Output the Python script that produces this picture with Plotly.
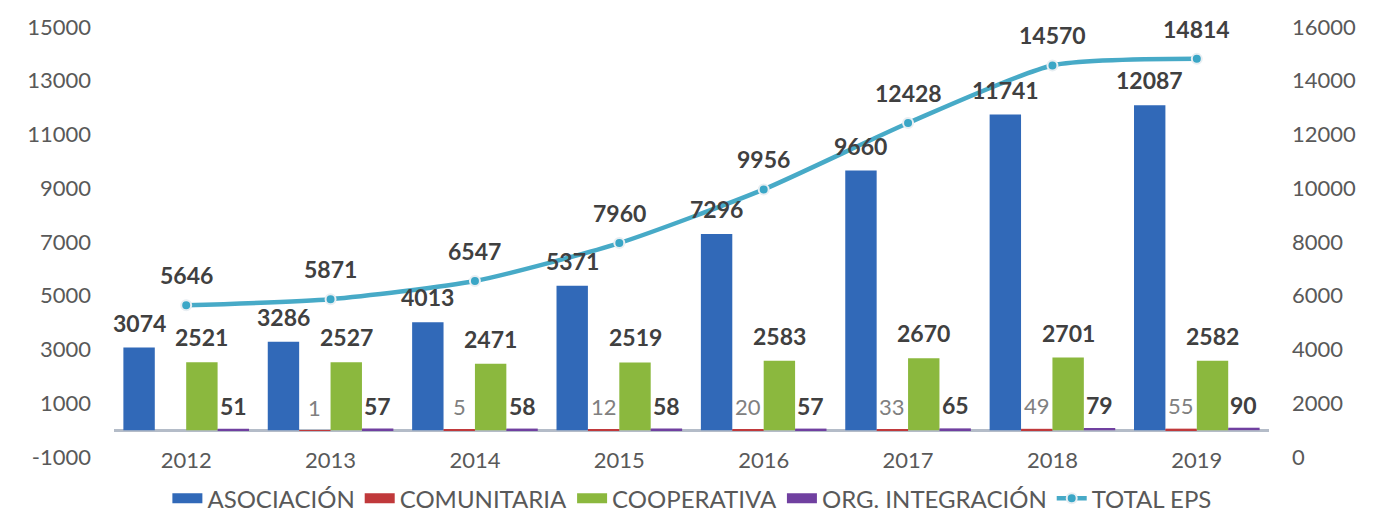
import plotly.graph_objects as go

years = ["2012", "2013", "2014", "2015", "2016", "2017", "2018", "2019"]
asociacion = [3074, 3286, 4013, 5371, 7296, 9660, 11741, 12087]
comunitaria = [0, 1, 5, 12, 20, 33, 49, 55]
cooperativa = [2521, 2527, 2471, 2519, 2583, 2670, 2701, 2582]
org_integracion = [51, 57, 58, 58, 57, 65, 79, 90]
total_eps = [5646, 5871, 6547, 7960, 9956, 12428, 14570, 14814]

left_ticks = list(range(-1000, 15001, 2000))
right_ticks = list(range(0, 16001, 2000))

FONT = "Lato"
BOLD = dict(family=FONT, size=23, color="#404040", weight="bold")
LIGHT = dict(family=FONT, size=22, color="#808080")

# page has an 8px body margin, so the figure is 8px smaller than the window
W, H = 1390, 509
ML, MR, MT, MB = 106, 129, 19, 60
BARGAP = 0.13
n_cat = len(years)
cat_px = (W - ML - MR) / n_cat
slot = cat_px * (1 - BARGAP) / 4
offs = [(-1.5 + i) * slot for i in range(4)]

series = [
    ("ASOCIACIÓN", asociacion, "#3169B8"),
    ("COMUNITARIA", comunitaria, "#C0393B"),
    ("COOPERATIVA", cooperativa, "#8BB83E"),
    ("ORG. INTEGRACIÓN", org_integracion, "#7040A0"),
]

fig = go.Figure()
for name, vals, col in series:
    fig.add_trace(go.Bar(x=years, y=vals, name=name, showlegend=False, legendgroup=name,
                         marker=dict(color=col, line=dict(width=0))))
# legend entries drawn as wide colour strips, like the reference
for name, vals, col in series:
    fig.add_trace(go.Scatter(x=[None], y=[None], mode="lines", name=name,
                             legendgroup=name, line=dict(color=col, width=10)))
fig.add_trace(go.Scatter(
    x=years, y=total_eps, name="TOTAL EPS", yaxis="y2", mode="lines+markers",
    line=dict(color="#47AAC7", width=4.5, shape="spline", smoothing=0.6),
    marker=dict(size=10, color="#3AA6C6", line=dict(color="#E8EEF2", width=2)),
    cliponaxis=False,
))

ann = []
for i, yr in enumerate(years):
    ann.append(dict(x=i, y=asociacion[i], xref="x", yref="y", text=str(asociacion[i]),
                    xshift=offs[0], yshift=25, showarrow=False, font=BOLD))
    if comunitaria[i] > 0:
        ann.append(dict(x=i, y=comunitaria[i], xref="x", yref="y", text=str(comunitaria[i]),
                        xshift=offs[1], yshift=23, showarrow=False, font=LIGHT))
    ann.append(dict(x=i, y=cooperativa[i], xref="x", yref="y", text=str(cooperativa[i]),
                    xshift=offs[2], yshift=25, showarrow=False, font=BOLD))
    ann.append(dict(x=i, y=org_integracion[i], xref="x", yref="y", text=str(org_integracion[i]),
                    xshift=offs[3], yshift=23, showarrow=False, font=BOLD))
    ann.append(dict(x=i, y=total_eps[i], xref="x", yref="y2", text=str(total_eps[i]),
                    yshift=30, showarrow=False, font=BOLD))

fig.update_layout(
    width=W, height=H,
    margin=dict(l=ML, r=MR, t=MT, b=MB, autoexpand=False),
    paper_bgcolor="white", plot_bgcolor="white",
    barmode="group", bargap=BARGAP, bargroupgap=0.0,
    font=dict(family=FONT, size=22, color="#595959"),
    showlegend=True,
    annotations=ann,
    legend=dict(orientation="h", xref="container", x=0.492, xanchor="center",
                y=-0.097, yanchor="middle",
                font=dict(family=FONT, size=24, color="#595959"),
                itemwidth=30, tracegroupgap=0, bgcolor="rgba(0,0,0,0)"),
    xaxis=dict(type="category", categoryorder="array", categoryarray=years,
               range=[-0.5, n_cat - 0.5],
               showgrid=False, showline=False, ticks="",
               tickfont=dict(family=FONT, size=22, color="#595959"),
               ticklabelstandoff=-12),
    yaxis=dict(range=[-1000, 15000], tickvals=left_ticks, ticktext=[str(v) for v in left_ticks],
               showgrid=False, zeroline=True, zerolinecolor="#B4BCC8", zerolinewidth=2.5,
               showline=False, ticks="", ticklabelstandoff=22,
               tickfont=dict(family=FONT, size=22, color="#595959")),
    yaxis2=dict(range=[0, 16000], tickvals=right_ticks, ticktext=[str(v) for v in right_ticks],
                overlaying="y", side="right", showgrid=False, zeroline=False,
                showline=False, ticks="", ticklabelstandoff=22,
                tickfont=dict(family=FONT, size=22, color="#595959")),
)

fig.write_html("out.html")
